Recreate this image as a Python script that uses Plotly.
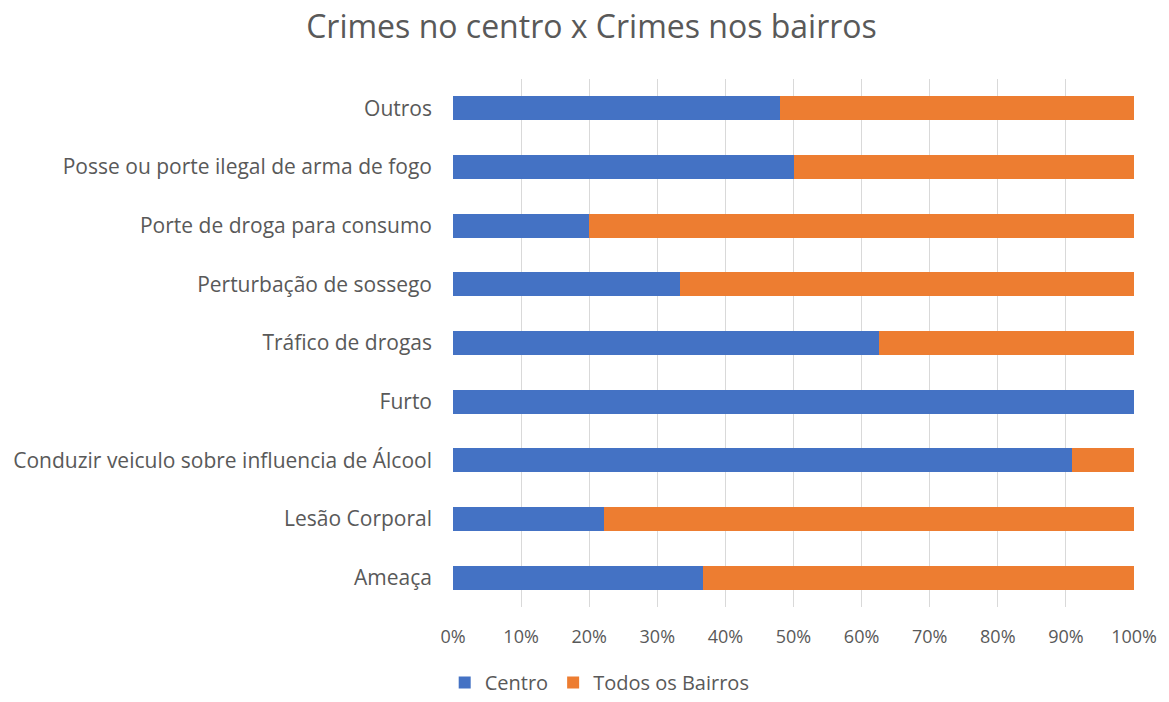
import plotly.graph_objects as go

# Crime categories, bottom to top
categorias = [
    "Ameaça",
    "Lesão Corporal",
    "Conduzir veiculo sobre influencia de Álcool",
    "Furto",
    "Tráfico de drogas",
    "Perturbação de sossego",
    "Porte de droga para consumo",
    "Posse ou porte ilegal de arma de fogo",
    "Outros",
]

# Share of each crime occurring downtown (%)
centro = [36.7, 22.2, 90.9, 100.0, 62.5, 33.3, 20.0, 50.0, 48.0]
# Share occurring in the neighbourhoods (%)
bairros = [63.3, 77.8, 9.1, 0.0, 37.5, 66.7, 80.0, 50.0, 52.0]

tick_vals = [0, 10, 20, 30, 40, 50, 60, 70, 80, 90, 100]
tick_text = ["0%", "10%", "20%", "30%", "40%", "50%", "60%", "70%", "80%", "90%", "100%"]

FONT = "Open Sans"
GRAY = "#595959"

fig = go.Figure()
fig.add_trace(go.Bar(
    y=categorias, x=centro, orientation="h", name="Centro",
    marker=dict(color="#4472C4", line=dict(width=0)),
))
fig.add_trace(go.Bar(
    y=categorias, x=bairros, orientation="h", name="Todos os Bairros",
    marker=dict(color="#ED7D31", line=dict(width=0)),
))

fig.update_layout(
    barmode="stack",
    bargap=0.59,
    width=1169, height=702,
    margin=dict(l=453, r=35, t=79, b=95, autoexpand=False),
    paper_bgcolor="white",
    plot_bgcolor="white",
    font=dict(family=FONT, color=GRAY, size=19),
    title=dict(
        text="Crimes no centro x Crimes nos bairros",
        x=0.506, xanchor="center", xref="container",
        y=0.962, yanchor="middle", yref="container",
        font=dict(family=FONT, size=32, color=GRAY),
    ),
    xaxis=dict(
        range=[0, 100], tickvals=tick_vals, ticktext=tick_text,
        showgrid=True, gridcolor="#D9D9D9", gridwidth=1,
        zeroline=False, showline=False, ticks="",
        tickfont=dict(size=18, color=GRAY), ticklabelstandoff=17,
    ),
    yaxis=dict(
        showgrid=False, showline=False, ticks="",
        tickfont=dict(size=21, color=GRAY), ticklabelstandoff=20,
    ),
    legend=dict(
        orientation="h", x=0.513, xanchor="center", xref="container",
        y=0.0, yanchor="bottom", yref="container",
        font=dict(size=20, color=GRAY), traceorder="normal",
        itemwidth=30,
    ),
)

fig.write_html("out.html")
